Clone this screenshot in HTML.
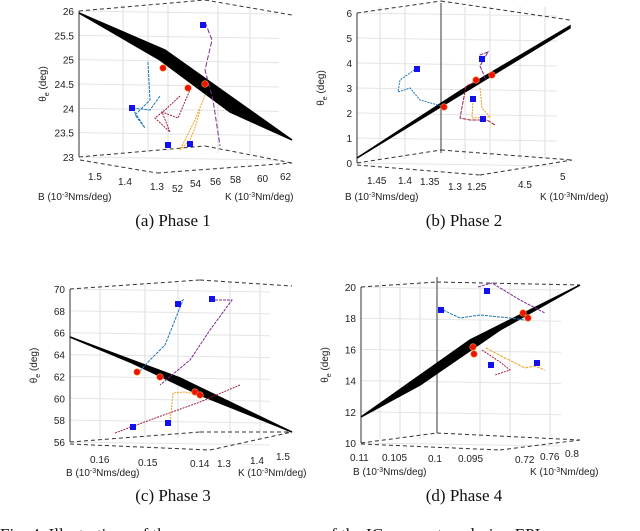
<!DOCTYPE html>
<html><head><meta charset="utf-8"><style>
body{margin:0;background:#fff;width:640px;height:531px;overflow:hidden}
svg{display:block}
.t{font-family:"Liberation Sans",sans-serif;font-size:10px;fill:#222}
.c{font-family:"Liberation Serif",serif;font-size:17px;fill:#111}
</style></head><body>
<svg id="fig" width="640" height="531" viewBox="0 0 640 531">
<g id="g"></g>
<text class="c" x="0" y="540">Fig. 4:  Illustrations of the convergence process of the IC parameters during EPI</text>
</svg>
<script>
// z-axis tick values per phase
const zTicksA=[23,23.5,24,24.5,25,25.5,26];
const zTicksB=[0,1,2,3,4,5,6];
const zTicksC=[56,58,60,62,64,66,68,70];
const zTicksD=[10,12,14,16,18,20];
const bTicksA=["1.5","1.4","1.3"], kTicksA=["52","54","56","58","60","62"];
const bTicksB=["1.45","1.4","1.35","1.3","1.25"], kTicksB=["4.5","5"];
const bTicksC=["0.16","0.15","0.14"], kTicksC=["1.3","1.4","1.5"];
const bTicksD=["0.11","0.105","0.1","0.095"], kTicksD=["0.72","0.76","0.8"];
const NS="http://www.w3.org/2000/svg", G=document.getElementById('g');
function el(t,a,p){const e=document.createElementNS(NS,t);for(const k in a)e.setAttribute(k,a[k]);(p||G).appendChild(e);return e;}
const panels=[
 {name:'phase-1',ox:79,top:11,bot:157,z:zTicksA,cap:'(a) Phase 1',cx:173,cy:226,
  band:[[79,13],[165,50],[292,140],[230,112],[160,60]],
  box:[[79,11,205,0],[205,0,292,15],[79,157,205,146],[205,146,292,163],[80,160,157,173],[157,173,292,163]],
  grid:[123,148,168,218,250],bt:bTicksA,bp:[[88,180],[118,185],[150,190]],kt:kTicksA,kp:[[172,192],[190,187],[210,185],[230,183],[257,182],[280,180]],
  bx:38,kx:225,ty:200,darkV:null},
 {name:'phase-2',ox:357,top:13,bot:163,z:zTicksB,cap:'(b) Phase 2',cx:464,cy:226,
  band:[[357,158],[460,91],[570,26],[570,28],[460,95]],
  box:[[357,13,441,1],[441,1,570,20],[357,163,441,150],[441,150,572,160],[357,165,480,175],[480,175,572,160]],
  grid:[380,405,465,490,520,545],bt:bTicksB,bp:[[367,184],[398,184],[420,185],[448,190],[467,190]],kt:kTicksB,kp:[[518,188],[560,180]],
  bx:345,kx:540,ty:200,darkV:441},
 {name:'phase-3',ox:70,top:289,bot:442,z:zTicksC,cap:'(c) Phase 3',cx:173,cy:501,
  band:[[70,337],[180,378],[292,432],[200,395],[130,362]],
  box:[[70,289,200,280],[200,280,292,286],[70,442,200,432],[200,432,292,432],[70,444,210,450],[210,450,292,432]],
  grid:[100,145,178,230,260],bt:bTicksC,bp:[[90,463],[138,466],[190,467]],kt:kTicksC,kp:[[217,467],[250,464],[276,460]],
  bx:66,kx:238,ty:476,darkV:null},
 {name:'phase-4',ox:361,top:287,bot:443,z:zTicksD,cap:'(d) Phase 4',cx:464,cy:501,
  band:[[361,417],[470,340],[580,285],[500,330],[420,385]],
  box:[[361,287,437,282],[437,282,580,285],[361,443,437,433],[437,433,580,440],[361,444,500,450],[500,450,580,440]],
  grid:[380,400,420,480,510,550],bt:bTicksD,bp:[[350,461],[382,461],[428,462],[458,462]],kt:kTicksD,kp:[[515,463],[540,460],[565,457]],
  bx:353,kx:530,ty:475,darkV:437}
];
const traj=[
 ['#1f77b4','M148 62 L150 100 L135 115 L145 128 L132 108 L150 110 L160 96','3,1'],
 ['#a0203a','M180 96 L165 110 L155 118 L170 132 L162 112 L178 118 L190 90','2,1'],
 ['#f0a020','M205 95 L195 120 L180 150 L190 140 L195 128 L200 110','2,1'],
 ['#7b2a90','M205 22 L212 40 L205 70 L213 100 L220 146','5,2'],
 ['#1f77b4','M417 68 L400 80 L398 92 L410 88 L420 100 L445 107','2,1'],
 ['#a0203a','M475 82 L466 86 L460 118 L470 120 L487 120 L495 125','4,1'],
 ['#f0a020','M480 88 L482 108 L490 117 L472 118 L473 100','2,1'],
 ['#7b2a90','M482 60 L480 55 L488 52 L480 66 L486 80','4,1'],
 ['#1f77b4','M178 303 L183 300 L175 320 L165 345 L150 360 L140 371','3,1'],
 ['#7b2a90','M215 300 L232 300 L210 330 L190 360 L160 385','3,1'],
 ['#a0203a','M115 433 L150 420 L200 402 L240 385','2,1'],
 ['#f0a020','M170 422 L173 393 L185 392 L195 394','2,1'],
 ['#1f77b4','M443 310 L460 318 L480 315 L510 318 L525 320','3,1'],
 ['#7b2a90','M478 287 L492 283 L520 300 L545 313','3,1'],
 ['#f0a020','M486 348 L505 358 L525 368 L535 366 L545 370','3,1'],
 ['#a0203a','M482 350 L500 362 L510 370 L495 375','2,1']
];
const reds=[[163,68],[188,88],[205,84],[444,107],[476,80],[492,75],[137,372],[160,377],[195,392],[200,395],[523,313],[528,318],[473,347],[474,354]];
const blues=[[203,25],[132,108],[168,145],[190,144],[417,69],[482,59],[473,99],[483,119],[178,304],[212,299],[133,427],[168,423],[441,310],[487,291],[491,365],[537,363]];
panels.forEach((p,i)=>{
 const g=el('g',{});
 const zy=v=>p.bot-(v-p.z[0])/(p.z[p.z.length-1]-p.z[0])*(p.bot-p.top);
 p.grid.forEach(x=>el('line',{x1:x,y1:p.top-6,x2:x,y2:p.bot-4,stroke:'#ddd','stroke-width':1},g));
 p.z.forEach(v=>{const y=zy(v);el('line',{x1:p.ox,y1:y,x2:p.ox+200,y2:y+3,stroke:'#e4e4e4','stroke-width':1},g);
  const t=el('text',{class:'t',x:p.ox-5,y:y+4,'text-anchor':'end'},g);t.textContent=v;});
 if(p.darkV)el('line',{x1:p.darkV,y1:p.top-10,x2:p.darkV,y2:p.bot-10,stroke:'#666','stroke-width':1.3},g);
 el('line',{x1:p.ox,y1:p.top,x2:p.ox,y2:p.bot,stroke:'#333','stroke-width':1},g);
 p.box.forEach(b=>el('line',{x1:b[0],y1:b[1],x2:b[2],y2:b[3],stroke:'#333','stroke-width':1,'stroke-dasharray':'4,3'},g));
 const s=el('polygon',{points:p.band.map(q=>q.join(',')).join(' '),fill:'#000',stroke:'#000','stroke-width':1.5},g);
 
 p.bt.forEach((v,j)=>{const t=el('text',{class:'t',x:p.bp[j][0],y:p.bp[j][1]},g);t.textContent=v;});
 p.kt.forEach((v,j)=>{const t=el('text',{class:'t',x:p.kp[j][0],y:p.kp[j][1]},g);t.textContent=v;});
 let t=el('text',{class:'t',x:p.bx,y:p.ty},g);t.innerHTML='B (10<tspan dy="-3" font-size="7">-3</tspan><tspan dy="3">Nms/deg)</tspan>';
 t=el('text',{class:'t',x:p.kx,y:p.ty},g);t.innerHTML='K (10<tspan dy="-3" font-size="7">-3</tspan><tspan dy="3">Nm/deg)</tspan>';
 const my=(p.top+p.bot)/2,mx=p.ox-33;
 t=el('text',{class:'t',x:mx,y:my,transform:`rotate(-90 ${mx} ${my})`,'text-anchor':'middle'},g);t.innerHTML='θ<tspan dy="3" font-size="7">e</tspan><tspan dy="-3"> (deg)</tspan>';
 t=el('text',{class:'c',x:p.cx,y:p.cy,'text-anchor':'middle'},g);t.textContent=p.cap;
});
traj.forEach(tr=>{const e=el('path',{d:tr[1],fill:'none',stroke:tr[0],'stroke-width':1,'stroke-dasharray':tr[2]});});
reds.forEach(r=>{const e=el('circle',{cx:r[0],cy:r[1],r:3.3,fill:'#f01010',stroke:'#f0a020','stroke-width':0.6});});
blues.forEach(b=>{const e=el('rect',{x:b[0]-3,y:b[1]-3,width:6,height:6,fill:'#1010f0'});});
</script>
</body></html>
